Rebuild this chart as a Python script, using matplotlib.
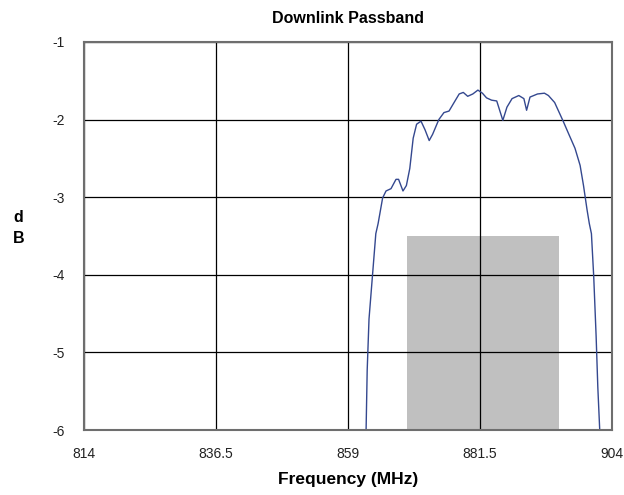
import matplotlib
matplotlib.use("Agg")
import matplotlib.pyplot as plt
import numpy as np

# passband trace (MHz, dB)
freq = [862.07, 862.27, 862.58, 863.16, 863.74, 864.13, 864.90, 865.48, 866.33, 867.18,
        867.62, 868.37, 868.95, 869.53, 870.11, 870.69, 871.44, 872.12, 872.84, 873.42,
        874.48, 875.35, 876.22, 877.08, 877.95, 878.65, 879.40, 880.27, 881.14, 881.91,
        882.61, 883.48, 884.35, 885.39, 886.09, 886.96, 888.11, 888.98, 889.44, 890.02,
        891.30, 892.48, 893.16, 894.22, 895.67, 896.53, 897.69, 898.56, 899.14, 899.74,
        900.13, 900.49, 900.88, 901.29, 901.58, 901.94]
gain = [-6.05, -5.23, -4.57, -4.02, -3.47, -3.34, -3.01, -2.92, -2.89, -2.77,
        -2.77, -2.92, -2.85, -2.63, -2.24, -2.06, -2.02, -2.13, -2.27, -2.19,
        -2.00, -1.91, -1.89, -1.78, -1.67, -1.65, -1.70, -1.67, -1.62, -1.66,
        -1.72, -1.75, -1.76, -2.01, -1.84, -1.73, -1.69, -1.73, -1.88, -1.71,
        -1.67, -1.66, -1.69, -1.78, -2.02, -2.17, -2.37, -2.59, -2.85, -3.16,
        -3.34, -3.47, -4.02, -4.79, -5.45, -6.06]

# spec mask block
mask_lo, mask_hi = 869, 895
mask_top = -3.5

xticks = [814, 836.5, 859, 881.5, 904]
xtick_labels = ["814", "836.5", "859", "881.5", "904"]
yticks = [-6, -5, -4, -3, -2, -1]

plt.rcParams['font.family'] = ['Liberation Sans', 'DejaVu Sans']
plt.rcParams['axes.unicode_minus'] = False

fig = plt.figure(figsize=(6.24, 4.95), dpi=100)
ax = fig.add_axes([0.1346, 0.1313, 0.8462, 0.7839])

ax.fill_between([mask_lo, mask_hi], -6, mask_top, color='#c0c0c0', lw=0, zorder=1)
ax.plot(freq, gain, color='#34488f', lw=1.0, zorder=3)

ax.set_xlim(814, 904)
ax.set_ylim(-6, -1)
ax.set_xticks(xticks)
ax.set_xticklabels(xtick_labels)
ax.set_yticks(yticks)
ax.grid(True, color='black', lw=0.9, zorder=2)
ax.set_axisbelow(False)
ax.tick_params(length=0, labelsize=10, pad=12, colors='#222222')
ax.tick_params(axis='y', pad=14)

for s in ax.spines.values():
    s.set_color('#6e6e6e')
    s.set_linewidth(1.5)
    s.set_zorder(4)

ax.set_title("Downlink Passband", fontsize=11.5, fontweight='bold', pad=14)
ax.set_xlabel("Frequency (MHz)", fontsize=12.5, fontweight='bold', labelpad=8)
fig.text(0.03, 0.54, "d\nB", fontsize=11.5, fontweight='bold', ha='center', va='center',
         linespacing=1.5)

fig.savefig("out.png", dpi=100)
